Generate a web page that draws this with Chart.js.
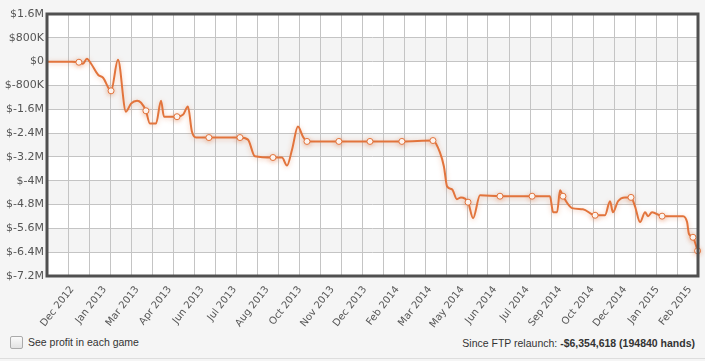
<!DOCTYPE html>
<html>
<head>
<meta charset="utf-8">
<script src="https://cdn.jsdelivr.net/npm/chart.js@4/dist/chart.umd.min.js"></script>
<style>
    html, body { margin: 0; padding: 0; background: #f5f5f5; }
    #wrap { position: relative; width: 705px; height: 361px; overflow: hidden; }
    #box { position: absolute; left: 0; top: 0; width: 705px; height: 332px; }
    .footer { position: absolute; font-family: "Liberation Sans", Arial, sans-serif; font-size: 10.5px; color: #333; }
    #chk { position: absolute; left: 10px; top: 336px; width: 11px; height: 11px; border: 1px solid #aaa; border-radius: 2px; background: linear-gradient(#fafafa, #e2e2e2); }
    #sep { position: absolute; left: 0; top: 358px; width: 705px; height: 1px; background: #ddd; }
</style>
</head>
<body>
<div id="wrap">
    <div id="box"><canvas id="profitChart"></canvas></div>
    <div id="chk"></div>
    <div class="footer" style="left:28px; top:336px;">See profit in each game</div>
    <div class="footer" style="right:10px; top:337px;">Since FTP relaunch: <b>-$6,354,618 (194840 hands)</b></div>
    <div id="sep"></div>
</div>
<script>
// posição de cada ponto ao longo do eixo (unidades da grade) e lucro acumulado
const gameX = [0, 1.19, 1.52, 1.71, 1.90, 2.10, 2.43, 2.67, 3.05, 3.38,
    3.76, 4.0, 4.29, 4.48, 4.71, 4.90, 5.19, 5.43, 5.57, 6.19,
    6.48, 6.71, 6.90, 7.10, 7.71, 9.19, 9.57, 9.90, 10.76, 11.19,
    11.43, 11.67, 11.95, 12.19, 12.38, 13.90, 15.38, 16.90, 18.38, 18.71,
    18.90, 19.05, 19.29, 19.52, 19.71, 20.05, 20.29, 20.62, 21.57, 23.10,
    23.95, 24.10, 24.29, 24.43, 24.57, 25.0, 25.52, 26.10, 26.57, 26.81,
    26.95, 27.19, 27.52, 27.81, 28.0, 28.24, 28.48, 28.62, 28.81, 29.29,
    30.29, 30.48, 30.57, 30.76, 30.98];
const profit = [0, 0, -20000, -70000, 100000, -70000, -440000, -540000, -980000, 60000,
    -1680000, -1410000, -1310000, -1380000, -1650000, -2080000, -2080000, -1310000, -1850000, -1850000,
    -1780000, -1510000, -2350000, -2550000, -2550000, -2550000, -2620000, -3180000, -3220000, -3220000,
    -3490000, -2950000, -2180000, -2520000, -2680000, -2680000, -2680000, -2680000, -2650000, -3050000,
    -3520000, -4190000, -4290000, -4620000, -4560000, -4720000, -5260000, -4490000, -4520000, -4520000,
    -4520000, -5060000, -5060000, -4320000, -4520000, -4920000, -4960000, -5160000, -5160000, -4690000,
    -5060000, -4690000, -4560000, -4560000, -4860000, -5390000, -5060000, -5190000, -5060000, -5190000,
    -5190000, -5390000, -5790000, -5900000, -6354618];
// pontos que aparecem marcados com círculo
const marked = [2, 8, 14, 19, 24, 25, 28, 34, 35, 36, 37, 38, 45, 48, 49, 54, 57, 63, 69, 73, 74];

const monthLabels = ['Dec 2012', 'Jan 2013', 'Mar 2013', 'Apr 2013', 'Jun 2013', 'Jul 2013',
    'Aug 2013', 'Oct 2013', 'Nov 2013', 'Dec 2013', 'Feb 2014', 'Mar 2014', 'May 2014',
    'Jun 2014', 'Jul 2014', 'Sep 2014', 'Oct 2014', 'Dec 2014', 'Jan 2015', 'Feb 2015'];
const labelStart = 1.2;
const labelStep = 1.548;
const gridCells = 31;

const yMin = -7200000, yMax = 1600000, yStep = 800000;

function formatMoney(v) {
    if (v === 0) return '$0';
    const a = Math.abs(v);
    const s = a >= 1000000 ? (a / 1000000) + 'M' : (a / 1000) + 'K';
    return v < 0 ? '$-' + s : '$' + s;
}

const lineColor = '#e2743c';

// faixas alternadas, sombra da linha e moldura
const framePlugin = {
    id: 'frame',
    beforeDraw(chart) {
        const { ctx, chartArea, scales } = chart;
        ctx.save();
        ctx.fillStyle = '#ffffff';
        ctx.fillRect(chartArea.left, chartArea.top, chartArea.right - chartArea.left, chartArea.bottom - chartArea.top);
        ctx.fillStyle = '#f4f4f4';
        const ticks = scales.y.ticks;
        for (let i = 0; i < ticks.length - 1; i++) {
            const idx = ticks.length - 1 - i;
            if (i % 2 === 1) {
                const y1 = scales.y.getPixelForValue(ticks[idx].value);
                const y2 = scales.y.getPixelForValue(ticks[idx - 1].value);
                ctx.fillRect(chartArea.left, y1, chartArea.right - chartArea.left, y2 - y1);
            }
        }
        ctx.restore();
    },
    beforeDatasetDraw(chart) {
        const ctx = chart.ctx;
        ctx.save();
        ctx.shadowColor = 'rgba(226, 116, 60, 0.4)';
        ctx.shadowBlur = 5;
        ctx.shadowOffsetY = 1;
    },
    afterDatasetDraw(chart) {
        chart.ctx.restore();
    },
    afterDraw(chart) {
        const { ctx, chartArea } = chart;
        ctx.save();
        ctx.strokeStyle = '#505050';
        ctx.lineWidth = 3;
        ctx.strokeRect(chartArea.left, chartArea.top, chartArea.right - chartArea.left, chartArea.bottom - chartArea.top);
        ctx.restore();
    }
};

const points = gameX.map((x, i) => ({ x: x, y: profit[i] }));

new Chart(document.getElementById('profitChart'), {
    type: 'line',
    data: {
        datasets: [{
            data: points,
            borderColor: lineColor,
            borderWidth: 2,
            cubicInterpolationMode: 'monotone',
            pointRadius: points.map((p, i) => marked.includes(i) ? 3 : 0),
            pointBackgroundColor: '#ffffff',
            pointBorderColor: lineColor,
            pointBorderWidth: 1,
            fill: false,
            clip: false
        }]
    },
    options: {
        responsive: true,
        maintainAspectRatio: false,
        animation: false,
        layout: { padding: { top: 14, right: 7, left: 0, bottom: 0 } },
        plugins: {
            legend: { display: false },
            tooltip: { enabled: false }
        },
        scales: {
            x: {
                type: 'linear',
                position: 'bottom',
                min: 0,
                max: gridCells,
                afterBuildTicks: (scale) => {
                    scale.ticks = Array.from({ length: gridCells + 1 }, (_, i) => ({ value: i }));
                },
                afterFit: (scale) => { scale.height = 0; },
                ticks: { display: false },
                grid: { color: '#c4c4c4', lineWidth: 1, drawTicks: false },
                border: { display: false }
            },
            xl: {
                type: 'linear',
                position: 'bottom',
                min: 0,
                max: gridCells,
                afterBuildTicks: (scale) => {
                    scale.ticks = monthLabels.map((_, i) => ({ value: labelStart + i * labelStep }));
                },
                afterFit: (scale) => { scale.height = 56; },
                ticks: {
                    autoSkip: false,
                    minRotation: 52,
                    maxRotation: 52,
                    padding: 0,
                    color: '#555',
                    font: { family: 'DejaVu Sans', size: 10 },
                    callback: (v, i) => monthLabels[i]
                },
                grid: { display: false },
                border: { display: false }
            },
            y: {
                min: yMin,
                max: yMax,
                afterBuildTicks: (scale) => {
                    const t = [];
                    for (let v = yMin; v <= yMax; v += yStep) t.push({ value: v });
                    scale.ticks = t;
                },
                afterFit: (scale) => { scale.width = 47; },
                ticks: {
                    padding: 3,
                    color: '#555',
                    font: { family: 'DejaVu Sans', size: 11 },
                    callback: (v) => formatMoney(v)
                },
                grid: { color: '#c4c4c4', lineWidth: 1, drawTicks: false },
                border: { display: false }
            }
        }
    },
    plugins: [framePlugin]
});
</script>
</body>
</html>
